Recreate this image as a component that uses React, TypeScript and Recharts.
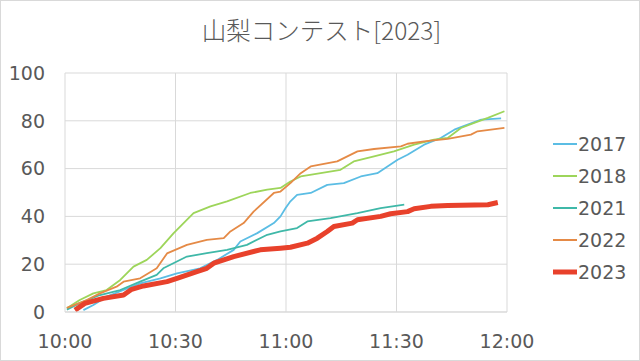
import React from "react";
import { LineChart, Line, XAxis, YAxis, CartesianGrid, Legend } from "recharts";

const seriesNames = ["2017", "2018", "2021", "2022", "2023"];
const seriesColors = ["#5bbde4", "#9dd55a", "#3fb8a8", "#e58a46", "#e8412b"];
const xTicks = [0, 30, 60, 90, 120];
const xTickLabels = ["10:00", "10:30", "11:00", "11:30", "12:00"];
const yTicks = [0, 20, 40, 60, 80, 100];

const t2017 = [5, 7.7, 11.3, 15.9, 20.4, 25.9, 30.4, 36.7, 41.3, 45.8, 47.6, 52.2, 56.7, 58.5, 59.9, 61.2, 63, 66.7, 71.2, 75.7, 80.3, 84.8, 90.3, 93, 97.5, 102, 105.7, 109.3, 113, 118.4];
const v2017 = [0.8, 2.9, 6.4, 9.2, 12, 14.1, 16.2, 18.3, 21.8, 26, 29.5, 33, 37.2, 40, 43.5, 46.3, 49, 49.8, 53.2, 53.9, 56.7, 58.1, 63.7, 65.8, 70, 72.8, 76.3, 78.4, 80.5, 81];

const t2018 = [0.5, 4, 7.7, 11.3, 15, 18.6, 22.2, 25.9, 29.5, 32.2, 34.9, 39.5, 44, 50.3, 54.9, 58.5, 61.2, 64, 69.4, 74.8, 78.4, 83.9, 89.3, 94.8, 100.2, 103.9, 107.5, 111.1, 114.8, 119.3];
const v2018 = [1.6, 5, 7.8, 9.2, 13.4, 19, 21.8, 26.7, 33, 37.2, 41.4, 44.2, 46.3, 49.8, 51.2, 51.9, 54.6, 56.7, 58.1, 59.5, 63, 65.1, 67.2, 70, 72.1, 72.8, 77, 79.1, 81.2, 84];

const t2021 = [0.5, 4, 9.5, 15, 20.4, 24.9, 26.7, 33.1, 38.5, 44, 49.4, 54.9, 58.5, 63, 65.8, 72.1, 79.4, 85.7, 92.1];
const v2021 = [1, 3.7, 7.1, 9.2, 12.7, 15.5, 18.3, 23.2, 24.6, 26, 28.1, 32.3, 33.7, 35.1, 37.9, 39.3, 41.4, 43.5, 44.9];

const t2022 = [0.5, 5.9, 9.5, 14, 15.9, 20.4, 24.9, 27.7, 33.1, 38.5, 43.1, 44.9, 48.5, 51.2, 56.7, 58.5, 61.2, 64, 66.7, 73.9, 79.4, 83.9, 91.2, 93, 97.5, 103.9, 110.2, 112, 119.3];
const v2022 = [1.7, 5, 7.8, 10.6, 12.7, 14.1, 18.3, 24.5, 28.1, 30.2, 30.9, 33.7, 37.2, 42, 49.8, 50.4, 53.9, 58.1, 60.9, 63, 67.2, 68.2, 69.3, 70.4, 71.4, 72.4, 74.2, 75.6, 77];

const t2023 = [2.7, 5.4, 10.4, 15.9, 18.1, 21.3, 27.7, 30.4, 35.8, 38.5, 40.4, 45.8, 53, 58.5, 61.2, 65.8, 68.5, 71.2, 73, 78, 79.4, 85.7, 88.4, 93, 94.8, 99.3, 103.9, 114.8, 117.5];
const v2023 = [0.8, 3.6, 5.7, 7.1, 9.5, 10.9, 12.7, 14.1, 16.9, 18.3, 20.4, 23.2, 26, 26.7, 27.1, 28.8, 30.9, 33.7, 35.8, 37.2, 38.6, 40, 41.1, 42, 43.2, 44.2, 44.6, 44.9, 45.8];

const build = (ts: number[], vs: number[]) => ts.map((t, i) => ({ t, v: vs[i] }));
const seriesData = [
  build(t2017, v2017),
  build(t2018, v2018),
  build(t2021, v2021),
  build(t2022, v2022),
  build(t2023, v2023),
];

const labelFont = "'DejaVu Sans', Verdana, sans-serif";
const textColor = "#595959";

const renderLegend = () => (
  <div style={{ fontFamily: labelFont, fontSize: 19, color: textColor }}>
    {seriesNames.map((name, i) => (
      <div key={name} style={{ height: 32, display: "flex", alignItems: "center" }}>
        <svg width={25} height={10} style={{ display: "block" }}>
          <line x1={0} x2={24} y1={5} y2={5} stroke={seriesColors[i]} strokeWidth={i === 4 ? 5 : 2} />
        </svg>
        <span style={{ lineHeight: "32px" }}>{name}</span>
      </div>
    ))}
  </div>
);

export default function App() {
  return (
    <div style={{ position: "absolute", left: 0, top: 0, width: 640, height: 361, background: "#fff" }}>
      <div
        style={{
          position: "absolute",
          left: 0,
          top: 12,
          width: 643,
          textAlign: "center",
          fontFamily: "'Noto Sans CJK JP', sans-serif",
          fontWeight: 300,
          fontSize: 24.5,
          color: textColor,
          lineHeight: "36px",
        }}
      >
        山梨コンテスト[2023]
      </div>
      <LineChart
        width={640}
        height={361}
        margin={{ top: 73, right: 133, bottom: 9, left: 10 }}
        style={{ position: "absolute", left: 0, top: 0 }}
      >
        <CartesianGrid stroke="#d9d9d9" strokeWidth={1} />
        <XAxis
          type="number"
          dataKey="t"
          domain={[0, 120]}
          ticks={xTicks}
          tickFormatter={(v: number) => xTickLabels[xTicks.indexOf(v)]}
          height={40}
          tickSize={0}
          tickMargin={23}
          axisLine={{ stroke: "#d9d9d9" }}
          tickLine={false}
          tick={{ fill: textColor, fontSize: 19, fontFamily: labelFont }}
          allowDuplicatedCategory={false}
          interval={0}
        />
        <YAxis
          type="number"
          domain={[0, 100]}
          ticks={yTicks}
          width={55}
          tickSize={0}
          tickMargin={20}
          axisLine={false}
          tickLine={false}
          tick={{ fill: textColor, fontSize: 19, fontFamily: labelFont }}
          interval={0}
        />
        <Legend
          layout="vertical"
          align="center"
          verticalAlign="middle"
          wrapperStyle={{ left: 553, top: 128, width: 85, right: "auto", bottom: "auto" }}
          content={renderLegend}
        />
        {seriesNames.map((name, i) => (
          <Line
            key={name}
            name={name}
            data={seriesData[i]}
            dataKey="v"
            type="linear"
            stroke={seriesColors[i]}
            strokeWidth={i === 4 ? 5 : 1.8}
            dot={false}
            activeDot={false}
            isAnimationActive={false}
            strokeLinejoin="round"
          />
        ))}
      </LineChart>
      <div
        style={{
          position: "absolute",
          left: 0,
          top: 0,
          width: 640,
          height: 361,
          boxSizing: "border-box",
          border: "1px solid #d9d9d9",
          pointerEvents: "none",
        }}
      />
    </div>
  );
}
